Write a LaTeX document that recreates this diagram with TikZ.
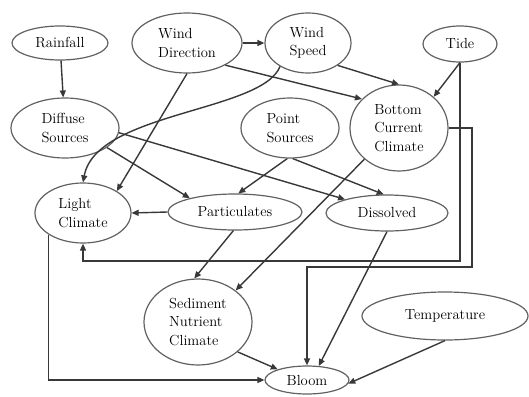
\documentclass[tikz,border=0pt]{standalone}
\usetikzlibrary{shapes.geometric,arrows.meta}
\begin{document}
\begin{tikzpicture}[x=1pt,y=-1pt,
  nd/.style={ellipse,draw=black!62,line width=1.2pt,inner sep=0pt,align=left,
    font=\rmfamily\fontsize{14.6}{18.5}\selectfont,text=black},
  edge/.style={draw=black!78,line width=1.4pt,-{Triangle[length=7pt,width=6pt]}}]
\useasboundingbox (0,0) rectangle (529,396);
\node[nd,minimum width=96,minimum height=34] (rain) at (60,43) {Rainfall};
\node[nd,minimum width=110,minimum height=60] (wd) at (187,43) {Wind\\Direction};
\node[nd,minimum width=86,minimum height=60] (ws) at (308,43) {Wind\\Speed};
\node[nd,minimum width=74,minimum height=36] (tide) at (460,44) {Tide};
\node[nd,minimum width=108,minimum height=60] (diff) at (65,128) {Diffuse\\Sources};
\node[nd,minimum width=98,minimum height=60] (ps) at (290,128) {Point\\Sources};
\node[nd,minimum width=98,minimum height=86] (bcc) at (399,128) {Bottom\\Current\\Climate};
\node[nd,minimum width=96,minimum height=60] (lc) at (83,213) {Light\\Climate};
\node[nd,minimum width=134,minimum height=36] (part) at (235,212) {Particulates};
\node[nd,minimum width=122,minimum height=36] (diss) at (387,213) {Dissolved};
\node[nd,minimum width=108,minimum height=86] (sed) at (198,322) {Sediment\\Nutrient\\Climate};
\node[nd,minimum width=166,minimum height=48] (temp) at (445,316) {Temperature};
\node[nd,minimum width=84,minimum height=28] (bloom) at (307,380) {Bloom};

\draw[edge] (rain) -- (diff);
\draw[edge] (wd) -- (ws);
\draw[edge] (wd.-30) -- (bcc.142);
\draw[edge] (wd.-90) -- (lc.33);
\draw[edge] (ws.-37) -- (bcc.90);
\draw[edge] (ws.-140) .. controls (262,112) and (96,112) .. (lc.90);
\draw[edge] (tide.-90) -- (bcc.42);
\draw[edge] (tide.south) -- (tide.south |- 0,261) -| (lc.south);
\draw[edge] (bcc.east) -| (472,267) -| (bloom.north);
\draw[edge] (diff.-25) -- (part.163);
\draw[edge] (diff.-5) -- (diss.162);
\draw[edge] (ps.-95) -- (part.80);
\draw[edge] (ps.-85) -- (diss.100);
\draw[edge] (bcc.-138) -- (sed.40);
\draw[edge] (part.west) -- (lc.east);
\draw[edge] (part.-95) -- (sed.95);
\draw[edge] (diss.-90) -- (bloom.50);
\draw[edge] (sed.-37) -- (bloom.160);
\draw[edge] (temp.south) -- (bloom.-5);
\draw[edge] (lc.-148) |- (bloom.west);
\end{tikzpicture}
\end{document}
